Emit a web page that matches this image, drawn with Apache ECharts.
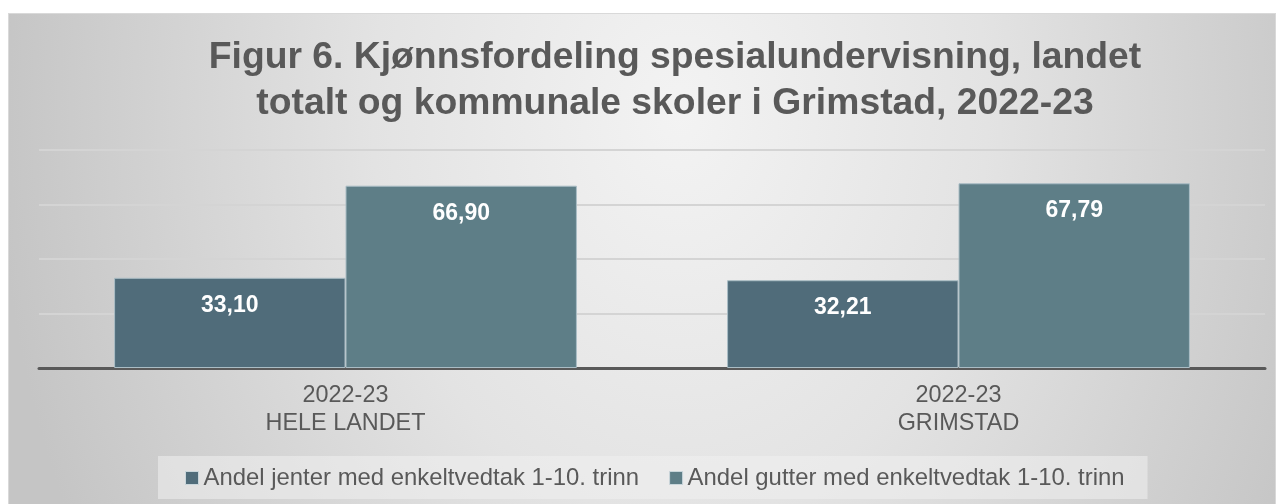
<!DOCTYPE html>
<html>
<head>
<meta charset="utf-8">
<script src="https://cdn.jsdelivr.net/npm/echarts@6/dist/echarts.min.js"></script>
<style>
  html, body { margin: 0; padding: 0; background: #ffffff; width: 1284px; height: 504px; overflow: hidden; }
  #bg { position: absolute; left: 8px; top: 13px; width: 1266px; height: 500px;
        border: 1px solid #d9d9d9;
        background: radial-gradient(ellipse 54% 180% at 53% 20%, #f3f3f3 0%, #e3e3e3 45%, #c5c5c5 100%); }
  #chart { position: absolute; left: 0; top: 0; width: 1284px; height: 504px; }
</style>
</head>
<body>
<div id="bg"></div>
<div id="chart"></div>
<script>
const titleText = 'Figur 6. Kjønnsfordeling spesialundervisning, landet\ntotalt og kommunale skoler i Grimstad, 2022-23';
const categories = ['2022-23\nHELE LANDET', '2022-23\nGRIMSTAD'];
const seriesNames = ['Andel jenter med enkeltvedtak 1-10. trinn', 'Andel gutter med enkeltvedtak 1-10. trinn'];
const jenterValues = [33.10, 32.21];
const gutterValues = [66.90, 67.79];
const yMin = 0, yMax = 80, yInterval = 20;

const fmt = p => p.value.toFixed(2).replace('.', ',');
const chart = echarts.init(document.getElementById('chart'), null, { renderer: 'canvas' });
const labelStyle = {
  show: true, position: 'insideTop', distance: 16,
  color: '#ffffff', fontFamily: 'Liberation Sans, Arial, sans-serif',
  fontWeight: 'bold', fontSize: 23, formatter: fmt
};
chart.setOption({
  animation: false,
  backgroundColor: 'transparent',
  title: {
    text: titleText,
    left: 670, top: 30, textAlign: 'center',
    textStyle: { fontFamily: 'Liberation Sans, Arial, sans-serif', fontWeight: 'bold', fontSize: 37.3, lineHeight: 46, color: '#595959' }
  },
  legend: {
    data: seriesNames,
    left: 158, top: 456,
    padding: [10, 23, 9, 27],
    backgroundColor: 'rgba(240,240,240,0.55)',
    icon: 'rect', itemWidth: 13, itemHeight: 13, itemGap: 30,
    itemStyle: { borderColor: '#c9d6db', borderWidth: 1 },
    textStyle: { fontFamily: 'Liberation Sans, Arial, sans-serif', fontSize: 23.9, color: '#595959' }
  },
  grid: { left: 39, right: 19, top: 150, bottom: 136 },
  xAxis: {
    type: 'category', data: categories,
    axisLine: { lineStyle: { color: '#595959', width: 3 } },
    axisTick: { show: false },
    axisLabel: { margin: 14, fontFamily: 'Liberation Sans, Arial, sans-serif', fontSize: 23.4, lineHeight: 28, color: '#595959' }
  },
  yAxis: {
    type: 'value', min: yMin, max: yMax, interval: yInterval,
    axisLabel: { show: false }, axisLine: { show: false }, axisTick: { show: false },
    splitLine: { lineStyle: { color: '#d4d4d4', width: 2 } }
  },
  series: [
    { name: seriesNames[0], type: 'bar', data: jenterValues, barGap: '0%', barCategoryGap: '24.5%',
      itemStyle: { color: '#506c7a', borderColor: '#aabdc5', borderWidth: 1 }, label: labelStyle },
    { name: seriesNames[1], type: 'bar', data: gutterValues, barGap: '0%', barCategoryGap: '24.5%',
      itemStyle: { color: '#5e7e87', borderColor: '#aabdc5', borderWidth: 1 }, label: labelStyle }
  ]
});
</script>
</body>
</html>
